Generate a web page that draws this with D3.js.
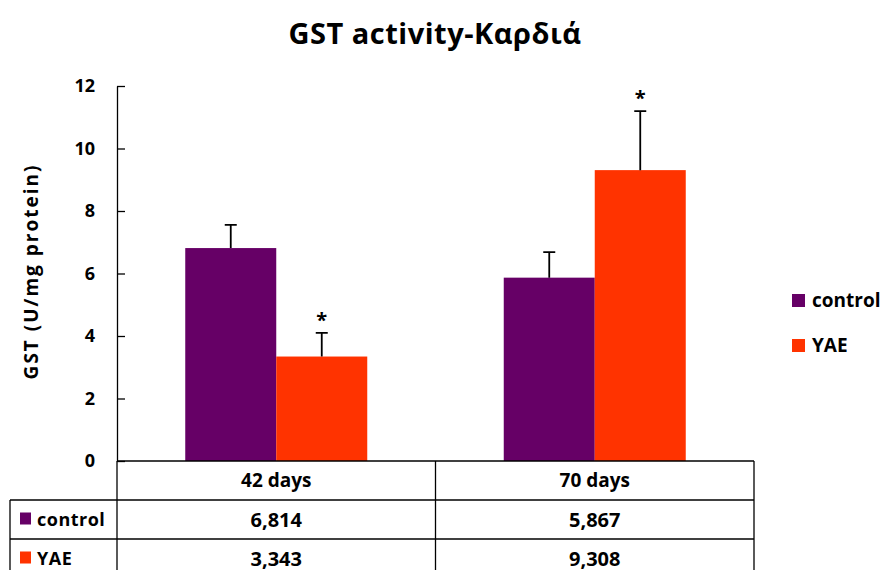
<!DOCTYPE html>
<meta charset="utf-8">
<title>GST activity-Καρδιά</title>
<script src="https://d3js.org/d3.v7.min.js"></script>
<style>
  body { margin: 0; background: #fff; }
  text { font-family: "Open Sans", "Noto Sans", sans-serif; font-weight: bold; fill: #000; }
</style>
<body>
<svg id="chart" width="887" height="570"></svg>
</body>
<script>
  // data
  let categories = ["42 days", "70 days"]
  let series = ["control", "YAE"]
  let colors = ["#660066", "#ff3300"]
  let controlValues = [6.814, 5.867]
  let yaeValues = [3.343, 9.308]
  let controlErr = [0.74, 0.82]
  let yaeErr = [0.76, 1.89]
  let controlStar = [false, false]
  let yaeStar = [true, true]
  let controlLabels = ["6,814", "5,867"]
  let yaeLabels = ["3,343", "9,308"]
  let yTicks = [0, 2, 4, 6, 8, 10, 12]

  let rows = series.map((s, i) => ({
    name: s,
    color: colors[i],
    values: i == 0 ? controlValues : yaeValues,
    err: i == 0 ? controlErr : yaeErr,
    star: i == 0 ? controlStar : yaeStar,
    labels: i == 0 ? controlLabels : yaeLabels
  }))

  let svg = d3.select("#chart")

  let plotLeft = 117, plotRight = 754, plotTop = 86, plotBottom = 461
  let rowH = 39

  let x = d3.scaleBand().domain(categories).range([plotLeft, plotRight])
  let xs = d3.scaleBand().domain(series).range([0, x.bandwidth()]).paddingOuter(0.75)
  let y = d3.scaleLinear().domain([0, 12]).range([plotBottom, plotTop])

  // title
  svg.append("text")
    .attr("x", 435).attr("y", 44)
    .attr("text-anchor", "middle")
    .style("font-size", "29px")
    .style("letter-spacing", "0.5px")
    .text("GST activity-Καρδιά")

  // y axis
  let yAxis = svg.append("g")
    .attr("transform", `translate(${plotLeft},0)`)
    .call(d3.axisLeft(y).tickValues(yTicks).tickSizeInner(-8).tickSizeOuter(0).tickPadding(22))
  yAxis.selectAll("text").style("font-size", "18px")
  yAxis.select(".domain").attr("stroke", "#000").attr("stroke-width", 1.3)
  yAxis.selectAll(".tick line").attr("stroke", "#000").attr("stroke-width", 1.3)

  svg.append("text")
    .attr("transform", `translate(38,${(plotTop + plotBottom) / 2 - 2}) rotate(-90)`)
    .attr("text-anchor", "middle")
    .style("font-size", "19px")
    .style("letter-spacing", "2px")
    .text("GST (U/mg protein)")

  // bars
  let bars = []
  rows.forEach(r => categories.forEach((c, j) => {
    bars.push({ c: c, s: r.name, v: r.values[j], e: r.err[j], star: r.star[j], color: r.color })
  }))
  let cx = d => x(d.c) + xs(d.s) + xs.bandwidth() / 2

  svg.selectAll(".bar").data(bars).enter().append("rect")
    .attr("x", d => x(d.c) + xs(d.s))
    .attr("y", d => y(d.v))
    .attr("width", xs.bandwidth())
    .attr("height", d => y(0) - y(d.v))
    .attr("fill", d => d.color)

  // error bars
  svg.selectAll(".err").data(bars).enter().append("path")
    .attr("d", d => `M${cx(d)},${y(d.v)}V${y(d.v + d.e)}M${cx(d) - 6},${y(d.v + d.e)}H${cx(d) + 6}`)
    .attr("stroke", "#000").attr("stroke-width", 1.8).attr("fill", "none")

  svg.selectAll(".star").data(bars.filter(d => d.star)).enter().append("text")
    .attr("x", cx)
    .attr("y", d => y(d.v + d.e) - 6)
    .attr("text-anchor", "middle")
    .style("font-size", "20px")
    .text("*")

  // baseline
  svg.append("line")
    .attr("x1", plotLeft).attr("x2", plotRight).attr("y1", y(0)).attr("y2", y(0))
    .attr("stroke", "#000").attr("stroke-width", 1.3)

  // data table
  let tbl = svg.append("g").attr("stroke", "#000").attr("stroke-width", 1.3)
  tbl.selectAll(".h").data([1, 2, 3]).enter().append("line")
    .attr("x1", 10).attr("x2", plotRight)
    .attr("y1", i => plotBottom + i * rowH).attr("y2", i => plotBottom + i * rowH)
  tbl.selectAll(".v").data(categories.map(c => x(c)).concat([plotRight])).enter().append("line")
    .attr("x1", d => d).attr("x2", d => d)
    .attr("y1", plotBottom).attr("y2", 570)
  tbl.append("line").attr("x1", 10).attr("x2", 10).attr("y1", plotBottom + rowH).attr("y2", 570)

  svg.selectAll(".cat").data(categories).enter().append("text")
    .attr("x", d => x(d) + x.bandwidth() / 2)
    .attr("y", plotBottom + rowH / 2 + 6)
    .attr("text-anchor", "middle")
    .style("font-size", "19px")
    .text(d => d)

  rows.forEach((r, i) => {
    let ry = plotBottom + (i + 1) * rowH
    svg.append("rect")
      .attr("x", 20).attr("y", ry + rowH / 2 - 7)
      .attr("width", 11).attr("height", 12)
      .attr("fill", r.color)
    svg.append("text")
      .attr("x", 37).attr("y", ry + rowH / 2 + 6)
      .style("font-size", "18px")
      .style("letter-spacing", "0.5px")
      .text(r.name)
    categories.forEach((c, j) => {
      svg.append("text")
        .attr("x", x(c) + x.bandwidth() / 2)
        .attr("y", ry + rowH / 2 + 7)
        .attr("text-anchor", "middle")
        .style("font-size", "20px")
        .text(r.labels[j])
    })
  })

  // legend
  let legend = svg.selectAll(".leg").data(rows).enter().append("g")
    .attr("transform", (d, i) => `translate(792,${294 + i * 45})`)
  legend.append("rect").attr("width", 13).attr("height", 13).attr("fill", d => d.color)
  legend.append("text").attr("x", 20).attr("y", 13).style("font-size", "19px").text(d => d.name)
</script>
